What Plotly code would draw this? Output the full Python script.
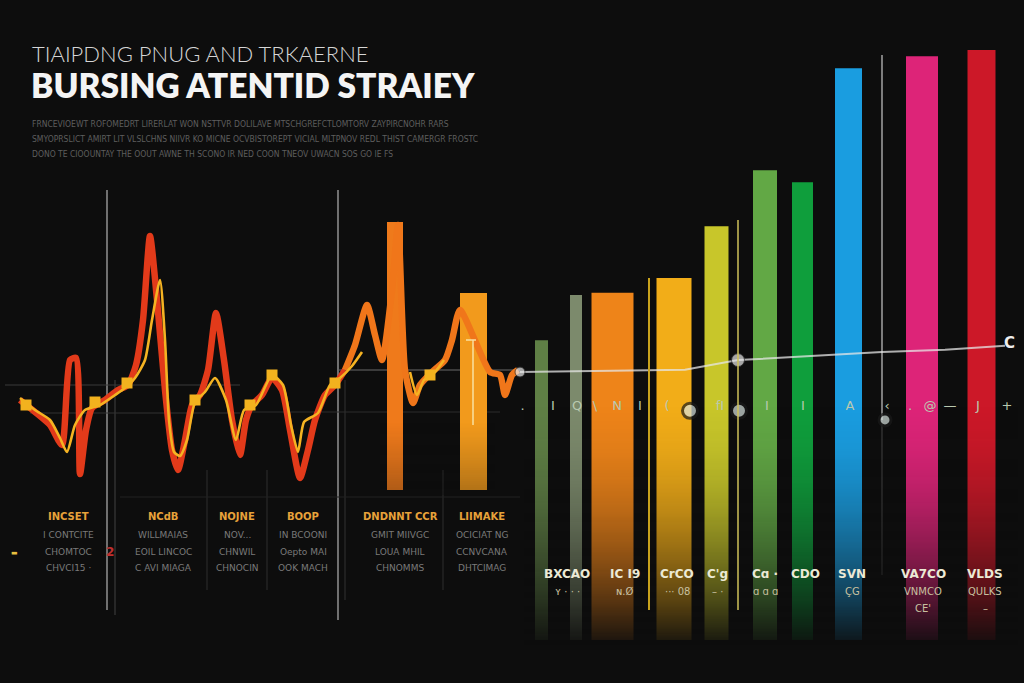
import base64, struct, zlib
import plotly.graph_objects as go

# ---------------- data ----------------
title_top = "TIAIPDNG PNUG AND TRKAERNE"
title_main = "BURSING ATENTID STRAIEY"
intro_lines = [
    "FRNCEVIOEWT ROFOMEDRT LIRERLAT WON NSTTVR DOLILAVE MTSCHGREFCTLOMTORV ZAYPIRCNOHR RARS",
    "SMYOPRSLICT AMIRT LIT VLSLCHNS NIIVR KO MICNE OCVBISTOREPT VICIAL MLTPNOV REDL THIST CAMERGR FROSTC",
    "DONO TE CIOOUNTAY THE OOUT AWNE TH SCONO IR NED COON TNEOV UWACN SOS GO IE FS",
]

# left signal: time index and value
sig_t = [0, 3, 6, 8.4, 10, 11.2, 12, 13.2, 14.4, 17, 19.6, 21.6, 23.2, 24.6, 26, 27.4, 29, 30.4, 31.6, 33,
         34.4, 36, 37.6, 39.2, 40.8, 42.4, 44, 45.2, 46.4, 48.4, 50.4, 52.4, 54, 56, 57.6, 59, 61, 63, 65, 67,
         69.4, 71, 72.4, 74.4, 75.6, 77, 78.6, 80, 82.4, 85, 86.4, 88, 94, 96, 97, 98.4, 99.6]
sig_v = [0, -6, -12.5, -22.5, 20, 21, -37, -15, -4, 0, 5, 7.5, 17.5, 40, 82, 50, 5, -25, -35, -20,
         -2.5, 2.5, 15, 43.5, 20, -10, -27.5, -10, -2.5, 2.5, 11, 5, -15, -39, -25, -10, 2.5, 7.5, 15, 27.5,
         47.5, 32.5, 20, 55, 87.5, 15, -1.5, 7.5, 14, 20, 30, 45, 14, 12.5, 2.5, 12.5, 15]

# secondary (yellow) signal
yel_t = [0, 3, 6, 8, 9.4, 11, 13, 16, 19, 21, 23, 25, 26.4, 28, 29, 29.8, 30.8, 32, 33.4, 35, 37, 39,
         41.2, 43.2, 44.8, 47.2, 50.4, 52.6, 54.2, 55.6, 56.8, 59.6, 62, 64, 66.4, 68.4,
         None, 78, 79.4, 80.8, 83, 84.8]
yel_v = [1, -5, -10, -19, -26, -12.5, -5, -2.5, 2.5, 6, 11, 20, 40, 60, 30, -10, -26, -28, -20, -1, 4, 11,
         0, -20, -5, -2.5, 12.5, 7.5, -12.5, -26, -11, -6.5, 7.5, 11, 17, 24,
         None, 14, 2.5, 10, 14, 20]

# step markers on the signal
step_t = [1.2, 15, 21.4, 35, 46, 50.4, 63, 82]
step_v = [-2.5, -1, 8.5, 0, -2.5, 12.5, 8.5, 12.5]

# spike columns inside the signal panel
spike_t = [75, 90.7]
spike_top = [89, 53.5]

# right bar chart
bar_pos = [104.3, 111.2, 118.5, 130.8, 139.3, 149, 156.5, 165.7, 180.4, 192.3]
bar_val = [49.1, 57.0, 57.4, 60.0, 69.1, 78.9, 76.8, 96.8, 98.9, 100.0]

# trend line across the bars
trend_t = [100, 133, 143.6, 172.4, 185, 197]
trend_v = [43.5, 43.9, 45.6, 47.0, 47.4, 48.1]

# markers on the lower track
track_t = [134, 143.8, 173]
track_v = [36.7, 36.7, 35.1]
track_letters = [".", "I", "Q", "\\", "N", "I", "(", "fI", "I", "I", "A", "‹", ".", "@", "—", "J", "+"]
track_letter_t = [100.5, 106.6, 111.4, 115, 119.4, 124, 129.4, 140, 149.4, 156.6, 166, 173.4, 178, 182, 186, 191.6, 197.4]

left_heads = ["INCSET", "NCdB", "NOJNE", "BOOP", "DNDNNT CCR", "LIIMAKE"]
left_subs = [
    ["I CONTCITE", "CHOMTOC", "CHVCI15 ·"],
    ["WILLMAIAS", "EOIL LINCOC", "C AVI MIAGA"],
    ["NOV...", "CHNWIL", "CHNOCIN"],
    ["IN BCOONI", "Oepto MAI", "OOK MACH"],
    ["GMIT MIIVGC", "LOUA MHIL", "CHNOMMS"],
    ["OCICIAT NG", "CCNVCANA", "DHTCIMAG"],
]
bar_labels = [["BXCAO", "ʏ · · ·"], ["IC I9", "ɴ.Ø"], ["CrCO", "··· 08"], ["C'g", "– ·"],
              ["Cɑ ·", "ɑ ɑ ɑ"], ["CDO", ""], ["SVN", "ÇG"], ["VA7CO", "VNMCO", "CE'"], ["VLDS", "QULKS", "–"]]

# ---------------- styling / layout ----------------
W, H = 1024, 683
BG = "#0d0d0d"
bar_width = [2.6, 2.4, 8.4, 7.0, 4.8, 4.8, 4.2, 5.4, 6.4, 5.6]
bar_colors = ["#5f7f45", "#7c8a6c", "#ee8419", "#f2ad18", "#c8c62a", "#62a845",
              "#0f9e3c", "#1a9de0", "#dd2478", "#cc1828"]
spike_colors = ["#ef7a1b", "#f29a1c"]
bar_x_labels = [567, 625, 677, 717, 765, 805, 852, 923, 985]
left_cols = [68, 163, 237, 303, 400, 482]


def P(x, y):
    return x / W, 1 - y / H


def gradient_png(a0, a1, n=128, rgb=(13, 13, 13), power=1.3):
    raw = b""
    for i in range(n):
        f = i / (n - 1)
        a = int(255 * (a0 + (a1 - a0) * f ** power))
        raw += b"\x00" + bytes([rgb[0], rgb[1], rgb[2], a])

    def chunk(tag, data):
        c = struct.pack(">I", len(data)) + tag + data
        return c + struct.pack(">I", zlib.crc32(tag + data) & 0xFFFFFFFF)

    png = (b"\x89PNG\r\n\x1a\n"
           + chunk(b"IHDR", struct.pack(">IIBBBBB", 1, n, 8, 6, 0, 0, 0))
           + chunk(b"IDAT", zlib.compress(raw))
           + chunk(b"IEND", b""))
    return "data:image/png;base64," + base64.b64encode(png).decode()


fig = go.Figure()

# spike columns (left panel)
fig.add_trace(go.Bar(x=spike_t, y=[t + 45 for t in spike_top], base=-45, width=[3.2, 5.4],
                     marker=dict(color=spike_colors, line=dict(width=0)), xaxis="x", yaxis="y",
                     showlegend=False, hoverinfo="skip"))

# signal ribbon: red first half, orange second half
split = 38
fig.add_trace(go.Scatter(x=sig_t[:split + 1], y=sig_v[:split + 1], mode="lines",
                         line=dict(color="#e23a1a", width=6.5, shape="spline", smoothing=0.6),
                         xaxis="x", yaxis="y", showlegend=False, hoverinfo="skip"))
fig.add_trace(go.Scatter(x=sig_t[split:], y=sig_v[split:], mode="lines",
                         line=dict(color="#f0761a", width=6.5, shape="spline", smoothing=0.6),
                         xaxis="x", yaxis="y", showlegend=False, hoverinfo="skip"))
fig.add_trace(go.Scatter(x=yel_t, y=yel_v, mode="lines",
                         line=dict(color="#f5b322", width=2.6, shape="spline", smoothing=0.6),
                         xaxis="x", yaxis="y", showlegend=False, hoverinfo="skip", connectgaps=False))
fig.add_trace(go.Scatter(x=step_t, y=step_v, mode="markers",
                         marker=dict(symbol="square", size=11, color="#f2b21e"),
                         xaxis="x", yaxis="y", showlegend=False, hoverinfo="skip"))

# right bars
fig.add_trace(go.Bar(x=bar_pos, y=[v + 3.5 for v in bar_val], base=-3.5, width=bar_width,
                     marker=dict(color=bar_colors, line=dict(width=0)), xaxis="x", yaxis="y2",
                     showlegend=False, hoverinfo="skip"))
fig.add_trace(go.Scatter(x=trend_t, y=trend_v, mode="lines",
                         line=dict(color="rgba(230,230,230,0.75)", width=2),
                         xaxis="x", yaxis="y2", showlegend=False, hoverinfo="skip"))
fig.add_trace(go.Scatter(x=[trend_t[0], trend_t[2]], y=[trend_v[0], trend_v[2]], mode="markers",
                         marker=dict(size=[10, 13], color="#e8e8e8", line=dict(color="#333", width=1)),
                         xaxis="x", yaxis="y2", showlegend=False, hoverinfo="skip"))
fig.add_trace(go.Scatter(x=track_letter_t, y=[37.4] * len(track_letter_t), mode="text",
                         text=track_letters, textfont=dict(color="#b9c9b0", size=13, family="DejaVu Sans"),
                         xaxis="x", yaxis="y2", showlegend=False, hoverinfo="skip"))
fig.add_trace(go.Scatter(x=track_t, y=track_v, mode="markers",
                         marker=dict(size=[15, 15, 12], color="#d9e4e0", line=dict(color="#1b1b1b", width=3)),
                         xaxis="x", yaxis="y2", showlegend=False, hoverinfo="skip"))

shapes = []


def vline(x, y0, y1, color, width=1.5):
    a, b = P(x, y0)
    _, c = P(x, y1)
    shapes.append(dict(type="line", xref="paper", yref="paper", x0=a, x1=a, y0=b, y1=c,
                       line=dict(color=color, width=width), layer="below"))


def hline(x0, x1, y, color, width=1):
    a, b = P(x0, y)
    c, _ = P(x1, y)
    shapes.append(dict(type="line", xref="paper", yref="paper", x0=a, x1=c, y0=b, y1=b,
                       line=dict(color=color, width=width), layer="below"))


vline(107, 190, 610, "#8a8a8a", 1.6)
vline(338, 190, 620, "#8a8a8a", 1.6)
vline(115, 380, 615, "#3a3a3a", 1.2)
vline(207, 470, 590, "#2e2e2e", 1)
vline(267, 470, 590, "#2e2e2e", 1)
vline(345, 380, 600, "#333333", 1)
vline(443, 470, 590, "#2e2e2e", 1)
vline(882, 55, 420, "#9a9a9a", 1.6)
vline(882, 420, 575, "#3c3c3c", 1.2)
hline(5, 240, 385, "#3a3a3a")
hline(30, 240, 413, "#333333")
hline(250, 500, 412, "#2c2c2c")
hline(338, 520, 370, "#6a6a6a", 1.2)
hline(120, 520, 497, "#222222")
shapes.append(dict(type="line", xref="paper", yref="paper", x0=649 / W, x1=649 / W,
                   y0=1 - 278 / H, y1=1 - 610 / H, line=dict(color="#c8a21c", width=2), layer="above"))
shapes.append(dict(type="line", xref="paper", yref="paper", x0=738 / W, x1=738 / W,
                   y0=1 - 220 / H, y1=1 - 610 / H, line=dict(color="#cfc25a", width=1.5), layer="above"))
shapes.append(dict(type="line", xref="paper", yref="paper", x0=473 / W, x1=473 / W,
                   y0=1 - 340 / H, y1=1 - 425 / H, line=dict(color="#f8e0a0", width=1.5), layer="above"))
shapes.append(dict(type="line", xref="paper", yref="paper", x0=466 / W, x1=476 / W,
                   y0=1 - 340 / H, y1=1 - 340 / H, line=dict(color="#f8e0a0", width=1.5), layer="above"))

annotations = []


def txt(x, y, s, size, color, family="DejaVu Sans", anchor="center", weight=None, yanchor="middle"):
    a, b = P(x, y)
    f = dict(size=size, color=color, family=family)
    if weight:
        f["weight"] = weight
    annotations.append(dict(x=a, y=b, xref="paper", yref="paper", text=s, showarrow=False,
                            xanchor=anchor, yanchor=yanchor, font=f))


txt(30, 53, title_top, 22, "#d6d6d6", family="Lato", anchor="left", weight=300)
txt(29, 85, title_main, 33.5, "#f4f4f4", family="Lato", anchor="left", weight=800)
for i, line in enumerate(intro_lines):
    txt(30, 124 + 15 * i, line, 8.5, "#5e5e5e", family="DejaVu Sans Condensed, DejaVu Sans", anchor="left")

for cx, head, subs in zip(left_cols, left_heads, left_subs):
    txt(cx, 516, head, 10, "#e7a23a", family="DejaVu Sans", weight=700)
    for j, s in enumerate(subs):
        txt(cx, 535 + 16.5 * j, s, 9, "#7a7a7a", family="DejaVu Sans")
txt(14, 553, "▬", 7, "#e8c040")
txt(110, 552, "2", 12, "#c03030", weight=700)

for cx, labs in zip(bar_x_labels, bar_labels):
    for j, s in enumerate(labs):
        if s:
            txt(cx, 574 + 17 * j, s, 12 if j == 0 else 10, "#ecead6" if j == 0 else "#c8c0a0",
                family="DejaVu Sans", weight=600 if j == 0 else None)
txt(1009, 343, "C", 15, "#eeeeee", weight=600)

images = [
    dict(source=gradient_png(0.0, 0.96, power=1.9), xref="paper", yref="paper",
         x=524 / W, y=1 - 390 / H, sizex=494 / W, sizey=255 / H, sizing="stretch",
         xanchor="left", yanchor="top", layer="above"),
    dict(source=gradient_png(0.0, 0.3, power=1.2), xref="paper", yref="paper",
         x=380 / W, y=1 - 420 / H, sizex=115 / W, sizey=75 / H, sizing="stretch",
         xanchor="left", yanchor="top", layer="above"),
]

fig.update_layout(
    width=W, height=H, autosize=False,
    margin=dict(l=0, r=0, t=0, b=0),
    paper_bgcolor=BG, plot_bgcolor="rgba(0,0,0,0)",
    barmode="overlay",
    xaxis=dict(domain=[0, 1], range=[-4, 200.8], visible=False, fixedrange=True),
    yaxis=dict(domain=[0, 1], range=[-141.5, 200], visible=False, fixedrange=True),
    yaxis2=dict(domain=[0, 1], range=[-11.05, 108.77], visible=False, overlaying="y", fixedrange=True),
    shapes=shapes, annotations=annotations, images=images,
    showlegend=False,
)

fig.write_html("out.html")
